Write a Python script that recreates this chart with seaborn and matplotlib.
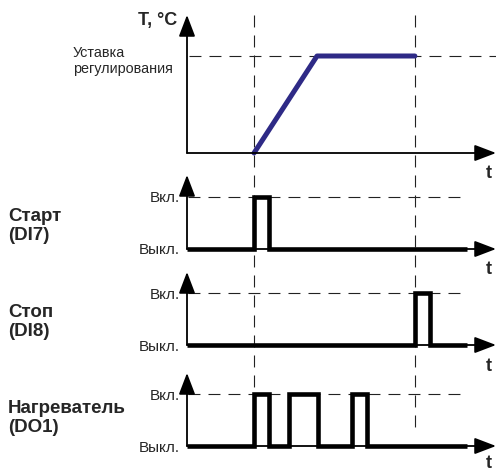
import matplotlib
matplotlib.use("Agg")
import matplotlib.pyplot as plt
import seaborn as sns
import pandas as pd

# time axis in arbitrary units
t_end = 46.1            # end of the time axis (arrow tip)
t_start = 10.0          # "Старт" command
t_stop = 34.0           # "Стоп" command
t_level_end = 41.5      # where the "Вкл." dashed guide stops

temp_t = [10.0, 19.4, 34.0]
temp_v = [0.0, 1.0, 1.0]

start_t = [0.0, 10.0, 12.2, 41.8]
start_v = [0, 1, 0, 0]

stop_t = [0.0, 34.0, 36.3, 41.8]
stop_v = [0, 1, 0, 0]

heater_t = [0.0, 10.0, 12.2, 15.2, 19.6, 24.6, 26.9, 41.8]
heater_v = [0, 1, 0, 1, 0, 1, 0, 0]

panel_names = ["Старт\n(DI7)", "Стоп\n(DI8)", "Нагреватель\n(DO1)"]
level_labels = ["Выкл.", "Вкл."]

sns.set_theme(style="white")
plt.rcParams["font.family"] = ["Liberation Sans", "DejaVu Sans"]
plt.rcParams["lines.scale_dashes"] = False

W, H = 496, 473
fig = plt.figure(figsize=(W / 100, H / 100), dpi=100)

x0 = 187  # pixel x of the vertical axes
DASH = (0, (8.6, 5.8))


def add_panel(top, base, t_off=-21):
    ax = fig.add_axes([x0 / W, 1 - base / H, (W - x0) / W, (base - top) / H])
    ax.set_facecolor("none")
    for s in ax.spines.values():
        s.set_visible(False)
    ax.set_xlim(0, t_end)
    ax.set_xticks([])
    arrow = dict(arrowstyle="-|>,head_length=1.1,head_width=0.42",
                 lw=1.3, color="black", shrinkA=0, shrinkB=0)
    ax.annotate("", xy=(0, 1), xytext=(0, 0), xycoords="axes fraction", arrowprops=arrow)
    ax.annotate("", xy=(1, 0), xytext=(0, 0), xycoords="axes fraction", arrowprops=arrow)
    ax.annotate("t", xy=(1, 0), xycoords="axes fraction", xytext=(-4, t_off),
                textcoords="offset pixels", ha="right", va="center",
                fontsize=13, fontweight="bold")
    return ax


# overlay for the vertical dashed guides across all panels
ov = fig.add_axes([x0 / W, 0, (W - x0) / W, 1])
ov.set_facecolor("none")
ov.axis("off")
ov.set_xlim(0, t_end)
ov.set_ylim(H, 0)
ov.vlines([t_start, t_stop], 15, 433, colors="#222222", lw=0.8, linestyles=[DASH])

# temperature panel
ax = add_panel(15, 153)
ax.set_ylim(0, 138 / 97)
ax.set_yticks([])
ax.axhline(1, xmin=0.005, xmax=1, color="#222222", lw=0.8, ls=DASH)
sns.lineplot(x=temp_t, y=temp_v, ax=ax, color="#2e2a86", lw=3.6,
             sort=False, estimator=None, solid_capstyle="round", clip_on=False)
ax.annotate("T, °C", xy=(0, 1), xycoords="axes fraction", xytext=(-10, -6),
            textcoords="offset pixels", ha="right", va="center",
            fontsize=13, fontweight="bold")
ax.annotate("Уставка\nрегулирования", xy=(0, 1), xycoords=("axes fraction", "data"),
            xytext=(-114, -5), textcoords="offset pixels", ha="left", va="center",
            fontsize=10.4, linespacing=1.2)

signals = [(start_t, start_v), (stop_t, stop_v), (heater_t, heater_v)]
rows = [(175, 249, 23, -21), (272, 345, 23, -21), (373, 446, 28, -17)]

for (ts, vs), name, (top, base, name_off, t_off) in zip(signals, panel_names, rows):
    ax = add_panel(top, base, t_off)
    ax.set_ylim(0, 1.41)
    ax.set_yticks([0, 1], level_labels)
    ax.tick_params(axis="y", length=0, pad=5, labelsize=11)
    ax.hlines(1, 0.2, t_level_end, colors="#222222", lw=0.8, linestyles=[DASH])
    df = pd.DataFrame({"t": ts, "state": vs})
    sns.lineplot(data=df, x="t", y="state", ax=ax, color="black", lw=3.3,
                 drawstyle="steps-post", sort=False, estimator=None,
                 solid_joinstyle="miter", solid_capstyle="butt", clip_on=False)
    ax.set_xlabel("")
    ax.set_ylabel("")
    ax.annotate(name, xy=(0, 0), xycoords="axes fraction", xytext=(-179, name_off),
                textcoords="offset pixels", ha="left", va="center",
                fontsize=13.5, fontweight="bold", linespacing=1.1)

fig.savefig("out.png", dpi=100)
